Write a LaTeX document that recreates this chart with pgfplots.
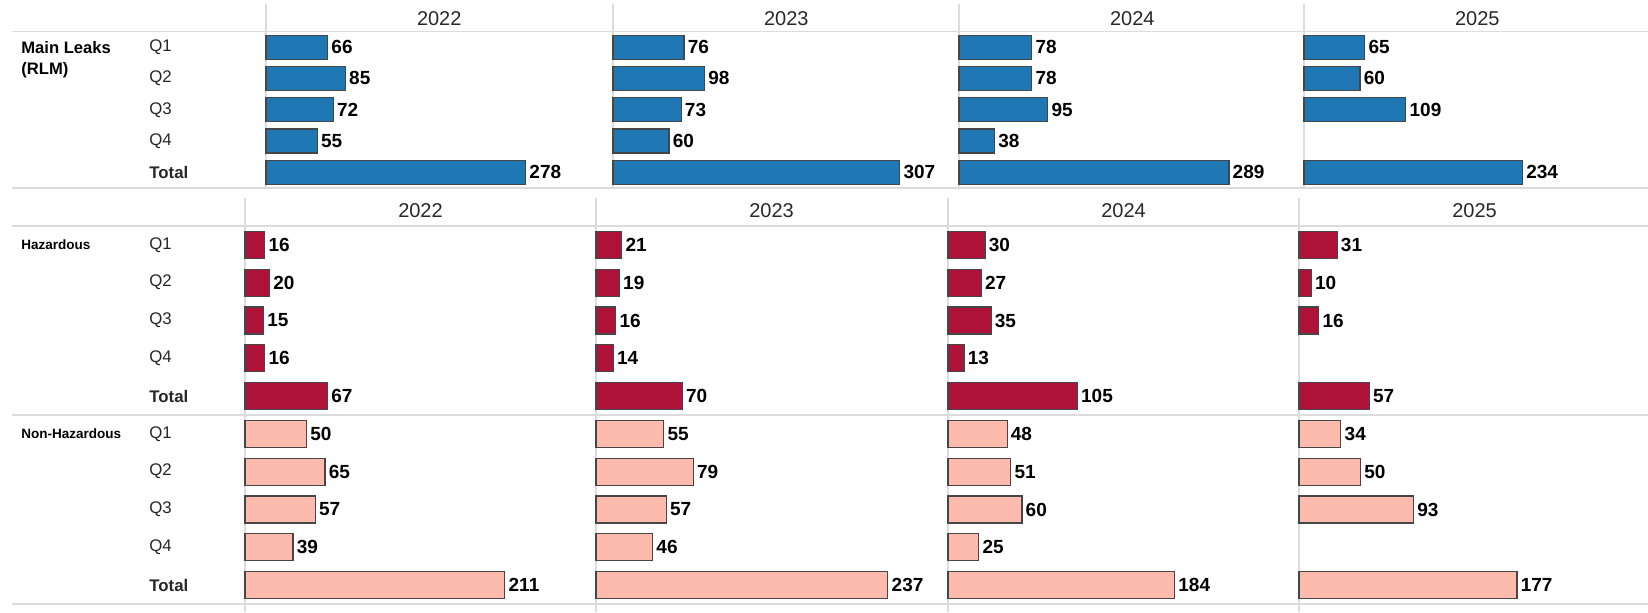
\documentclass[border=0pt]{standalone}
\usepackage{pgfplots}
\pgfplotsset{compat=1.18}
\usepackage{fontspec}
\setmainfont{Liberation Sans}
\definecolor{cblue}{RGB}{31,119,180}
\definecolor{ccrim}{RGB}{174,18,56}
\definecolor{cpink}{RGB}{253,187,174}
\definecolor{gridc}{RGB}{220,220,220}
\definecolor{txt}{RGB}{40,40,40}
\definecolor{edge}{RGB}{70,70,70}

\pgfplotsset{
  panel/.style={
    scale only axis, anchor=north west,
    xbar, y dir=reverse,
    axis line style={draw=none},
    xtick=\empty, ytick=\empty,
    major tick length=0pt, tick style={draw=none},
    xmin=0, clip=false,
    point meta=x,
    nodes near coords={\pgfmathprintnumber[assume math mode=true]{\pgfplotspointmeta}},
    nodes near coords style={font=\fontsize{9.5}{11}\selectfont\bfseries, color=black, inner sep=1.6pt, anchor=west},
    title style={at={(0.5,1)}, anchor=center, font=\fontsize{10}{12}\selectfont, color=txt},
    yticklabel style={anchor=west, inner sep=0pt, font=\fontsize{8.4}{10}\selectfont, color=black!85},
  },
  top/.style={panel, width=173.25pt, height=78.25pt, xmax=371, ymin=0.5, ymax=5.5,
    title style={yshift=0.4pt}},
  bot/.style={panel, width=175.5pt, height=189pt, xmax=285, ymin=0.5, ymax=10.5,
    title style={yshift=1.5pt}},
  barA/.style={bar shift=0pt, bar width=12pt, fill=cblue, draw=edge, line width=0.6pt},
  barH/.style={bar shift=0pt, bar width=13.5pt, fill=ccrim, draw=edge, line width=0.6pt},
  barN/.style={bar shift=0pt, bar width=13.5pt, fill=cpink, draw=edge, line width=0.6pt},
}

\begin{document}
\begin{tikzpicture}
\useasboundingbox (0,0) rectangle (824pt,-306pt);
% grid lines
\draw[gridc, line width=0.9pt] (6pt,-15.75pt) -- (824pt,-15.75pt);
\draw[gridc, line width=0.9pt] (6pt,-94pt) -- (824pt,-94pt);
\draw[gridc, line width=0.9pt] (6pt,-113pt) -- (824pt,-113pt);
\draw[gridc, line width=0.9pt] (6pt,-207.5pt) -- (824pt,-207.5pt);
\draw[gridc, line width=0.9pt] (6pt,-302pt) -- (824pt,-302pt);
\foreach \x in {133,306.5,479.5,652} \draw[gridc, line width=0.9pt] (\x pt,-2pt) -- (\x pt,-94pt);
\foreach \x in {122.5,298,474,649.5} \draw[gridc, line width=0.9pt] (\x pt,-99pt) -- (\x pt,-306pt);

% group labels
\node[anchor=base west, inner sep=0pt, font=\fontsize{8.3}{10}\selectfont\bfseries] at (10.5pt,-26.5pt) {Main Leaks};
\node[anchor=base west, inner sep=0pt, font=\fontsize{8.3}{10}\selectfont\bfseries] at (10.5pt,-37pt) {(RLM)};
\node[anchor=base west, inner sep=0pt, font=\fontsize{6.75}{8}\selectfont\bfseries] at (10.5pt,-124.5pt) {Hazardous};
\node[anchor=base west, inner sep=0pt, font=\fontsize{6.75}{8}\selectfont\bfseries] at (10.5pt,-219pt) {Non-Hazardous};

% ---------- Main Leaks ----------
\begin{axis}[top, at={(133pt,-15.75pt)}, title={2022},
  ytick={1,2,3,4,5}, yticklabels={Q1,Q2,Q3,Q4,\textbf{Total}},
  yticklabel style={xshift=-58.5pt}]
\addplot[barA] coordinates {(66,1) (85,2) (72,3) (55,4) (278,5)};
\end{axis}
\begin{axis}[top, at={(306.5pt,-15.75pt)}, title={2023}]
\addplot[barA] coordinates {(76,1) (98,2) (73,3) (60,4) (307,5)};
\end{axis}
\begin{axis}[top, at={(479.5pt,-15.75pt)}, title={2024}]
\addplot[barA] coordinates {(78,1) (78,2) (95,3) (38,4) (289,5)};
\end{axis}
\begin{axis}[top, at={(652pt,-15.75pt)}, title={2025}]
\addplot[barA] coordinates {(65,1) (60,2) (109,3) (234,5)};
\end{axis}

% ---------- Hazardous / Non-Hazardous ----------
\begin{axis}[bot, at={(122.5pt,-113pt)}, title={2022},
  ytick={1,...,10}, yticklabels={Q1,Q2,Q3,Q4,\textbf{Total},Q1,Q2,Q3,Q4,\textbf{Total}},
  yticklabel style={xshift=-48pt}]
\addplot[barH] coordinates {(16,1) (20,2) (15,3) (16,4) (67,5)};
\addplot[barN] coordinates {(50,6) (65,7) (57,8) (39,9) (211,10)};
\end{axis}
\begin{axis}[bot, at={(298pt,-113pt)}, title={2023}]
\addplot[barH] coordinates {(21,1) (19,2) (16,3) (14,4) (70,5)};
\addplot[barN] coordinates {(55,6) (79,7) (57,8) (46,9) (237,10)};
\end{axis}
\begin{axis}[bot, at={(474pt,-113pt)}, title={2024}]
\addplot[barH] coordinates {(30,1) (27,2) (35,3) (13,4) (105,5)};
\addplot[barN] coordinates {(48,6) (51,7) (60,8) (25,9) (184,10)};
\end{axis}
\begin{axis}[bot, at={(649.5pt,-113pt)}, title={2025}]
\addplot[barH] coordinates {(31,1) (10,2) (16,3) (57,5)};
\addplot[barN] coordinates {(34,6) (50,7) (93,8) (177,10)};
\end{axis}
\end{tikzpicture}
\end{document}
